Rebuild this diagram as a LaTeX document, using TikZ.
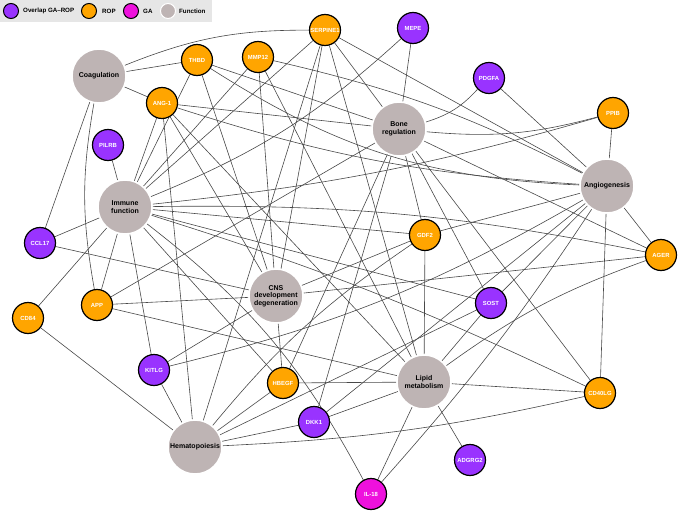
\documentclass[tikz,border=0pt]{standalone}
\usepackage{fontspec}
\setmainfont{Liberation Sans}
\usetikzlibrary{backgrounds}
\definecolor{ovl}{HTML}{9933FF}
\definecolor{rop}{HTML}{FFA500}
\definecolor{gam}{HTML}{EE11DD}
\definecolor{fun}{HTML}{BEB4B4}
\definecolor{edgec}{HTML}{484848}
\definecolor{legbg}{HTML}{E6E6E6}
\tikzset{
  gene/.style={circle, draw=black, line width=1.2pt, minimum size=31pt, inner sep=0pt, text=white, font=\bfseries\fontsize{5.9}{7}\selectfont},
  ovlgene/.style={gene, fill=ovl},
  ropgene/.style={gene, fill=rop},
  gagene/.style={gene, fill=gam},
  func/.style={circle, fill=fun, draw=white, line width=1.5pt, minimum size=54pt, inner sep=0pt, align=center, text=black, font=\bfseries\fontsize{7}{7.6}\selectfont},
  lnk/.style={draw=edgec, line width=0.6pt},
  legdot/.style={circle, draw=black, line width=1pt, minimum size=15pt, inner sep=0pt},
  legtxt/.style={anchor=west, inner sep=0pt, font=\bfseries\fontsize{6.2}{7}\selectfont},
}
\begin{document}
\begin{tikzpicture}[x=1pt,y=-1pt]
\useasboundingbox (0,0) rectangle (678,511);
% legend
\fill[legbg] (0,0) rectangle (212,22);
\node[legdot, fill=ovl] (l1) at (11,11) {};
\node[legtxt] (t1) at (23,11) {Overlap GA–ROP};
\node[legdot, fill=rop] (l2) at (89,11) {};
\node[legtxt] (t2) at (102,11) {ROP};
\node[legdot, fill=gam] (l3) at (131,11) {};
\node[legtxt] (t3) at (143,11) {GA};
\node[legdot, fill=fun, draw=white] (l4) at (168,11) {};
\node[legtxt] (t4) at (179,11) {Function};
% function nodes
\node[func] (coag) at (99,76) {Coagulation};
\node[func] (imm) at (125,207) {Immune\\function};
\node[func] (bone) at (399,129) {Bone\\regulation};
\node[func] (angio) at (607,186) {Angiogenesis};
\node[func] (cns) at (276,296) {CNS\\development\\degeneration};
\node[func] (hem) at (195,447) {Hematopoiesis};
\node[func] (lipid) at (424,382) {Lipid\\metabolism};
% gene nodes
\node[ropgene] (serp) at (325,30) {SERPINE1};
\node[ropgene] (thbd) at (197,60) {THBD};
\node[ropgene] (mmp) at (258,57) {MMP12};
\node[ropgene] (ang) at (162,103) {ANG-1};
\node[ovlgene] (pilrb) at (108,145) {PILRB};
\node[ovlgene] (ccl) at (40,243) {CCL17};
\node[ovlgene] (mepe) at (413,28) {MEPE};
\node[ovlgene] (pdgfa) at (489,78) {PDGFA};
\node[ropgene] (ppib) at (613,113) {PPIB};
\node[ropgene] (gdf) at (425,235) {GDF2};
\node[ropgene] (ager) at (661,255) {AGER};
\node[ropgene] (app) at (97,305) {APP};
\node[ropgene] (cd84) at (28,318) {CD84};
\node[ovlgene] (kitlg) at (154,370) {KITLG};
\node[ropgene] (hbegf) at (283,383) {HBEGF};
\node[ovlgene] (dkk) at (314,422) {DKK1};
\node[ovlgene] (sost) at (491,303) {SOST};
\node[ropgene] (cd40) at (600,393) {CD40LG};
\node[ovlgene] (adgrg) at (470,460) {ADGRG2};
\node[gagene] (il18) at (371,494) {IL-18};
% connectors
\begin{pgfonlayer}{background}
\foreach \a/\b in {coag/thbd, coag/ang, coag/ccl,
  imm/pilrb, imm/ang, imm/thbd, imm/mmp, imm/serp, imm/gdf, imm/sost, imm/ccl, imm/cd84, imm/app, imm/kitlg, imm/hbegf,
  bone/mepe, bone/serp, bone/thbd, bone/ang, bone/app, bone/dkk, bone/hbegf, bone/gdf, bone/sost, bone/cd40, bone/ager,
  angio/ppib, angio/pdgfa, angio/serp, angio/gdf, angio/dkk, angio/sost, angio/cd40, angio/ager,
  cns/ccl, cns/app, cns/kitlg, cns/hbegf, cns/gdf, cns/ager, cns/serp, cns/mmp, cns/thbd, cns/ang,
  hem/cd84, hem/kitlg, hem/ang, hem/serp, hem/hbegf, hem/dkk, hem/sost,
  lipid/serp, lipid/mmp, lipid/ang, lipid/app, lipid/hbegf, lipid/dkk, lipid/gdf, lipid/sost, lipid/cd40, lipid/il18, lipid/adgrg}
  {\draw[lnk] (\a) -- (\b);}
\draw[lnk] (serp) to[bend right=11] (coag);
\draw[lnk] (coag) to[bend right=10] (app);
\draw[lnk] (ppib) to[bend left=5] (imm);
\draw[lnk] (ager) to[bend right=6] (imm);
\draw[lnk] (imm) to[bend left=4] (cd40);
\draw[lnk] (imm) to[bend left=12] (il18);
\draw[lnk] (mepe) to[bend left=10] (imm);
\draw[lnk] (ppib) to[bend left=10] (bone);
\draw[lnk] (pdgfa) to[bend left=15] (bone);
\draw[lnk] (mmp) to[bend left=7] (angio);
\draw[lnk] (thbd) to[bend right=15] (angio);
\draw[lnk] (ang) to[bend right=7] (angio);
\draw[lnk] (kitlg) to[bend right=8] (angio);
\draw[lnk] (il18) to[bend right=4] (angio);
\draw[lnk] (gdf) to[bend right=8] (hem);
\draw[lnk] (cd40) to[bend left=5] (hem);
\draw[lnk] (ager) to[bend right=8] (lipid);
\end{pgfonlayer}
\end{tikzpicture}
\end{document}
